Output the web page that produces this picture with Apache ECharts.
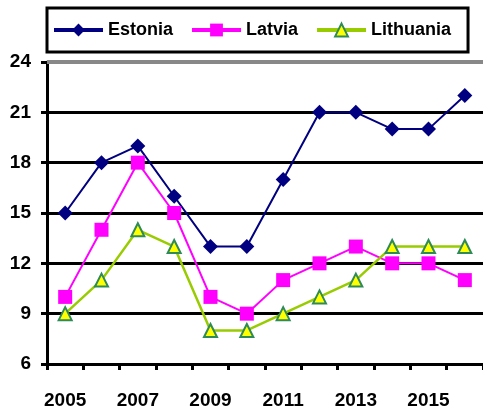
<!DOCTYPE html>
<html><head><meta charset="utf-8">
<script src="https://cdn.jsdelivr.net/npm/echarts@6/dist/echarts.min.js"></script>
<style>html,body{margin:0;padding:0;background:#fff}#c{width:483px;height:419px}</style>
</head><body><div id="c"></div>
<script>
const years = ['2005','2006','2007','2008','2009','2010','2011','2012','2013','2014','2015','2016'];
const estonia = [15,18,19,16,13,13,17,21,21,20,20,22];
const latvia = [10,14,18,15,10,9,11,12,13,12,12,11];
const lithuania = [9,11,14,13,8,8,9,10,11,13,13,13];
const yTicks = {min:6, max:24, interval:3};

const font = '"Liberation Sans", Arial, sans-serif';
const chart = echarts.init(document.getElementById('c'));
chart.setOption({
  animation:false,
  textStyle:{fontFamily:font},
  grid:{left:47, right:-2, top:62, bottom:55, containLabel:false},
  legend:{
    left:47, top:8, width:410,
    padding:[13,17,13,5],
    borderColor:'#000', borderWidth:3,
    itemWidth:49, itemHeight:16, itemGap:17,
    lineStyle:{width:4},
    textStyle:{fontFamily:font, fontWeight:'bold', fontSize:18, color:'#000'},
    data:['Estonia','Latvia','Lithuania']
  },
  xAxis:{
    type:'category', data:years, boundaryGap:true,
    axisLine:{lineStyle:{color:'#000', width:3}},
    axisTick:{show:true, interval:0, length:6, lineStyle:{color:'#000', width:3}},
    axisLabel:{interval:1, margin:27, color:'#000', fontWeight:'bold', fontSize:19, fontFamily:font},
    splitLine:{show:false}
  },
  yAxis:{
    type:'value', min:yTicks.min, max:yTicks.max, interval:yTicks.interval,
    axisLine:{show:true, lineStyle:{color:'#000', width:3}},
    axisTick:{show:true, length:6, lineStyle:{color:'#000', width:3}},
    axisLabel:{margin:16, color:'#000', fontWeight:'bold', fontSize:19, fontFamily:font},
    splitLine:{show:true, lineStyle:{color:'#000', width:3}}
  },
  series:[
    {name:'Estonia', type:'line', data:estonia, symbol:'diamond', symbolSize:15,
     lineStyle:{color:'#000080', width:2}, itemStyle:{color:'#000080'},
     markLine:{silent:true, symbol:'none', label:{show:false},
       data:[{yAxis:24, lineStyle:{color:'#888', width:4, type:'solid'}}]}},
    {name:'Latvia', type:'line', data:latvia, symbol:'rect', symbolSize:14,
     lineStyle:{color:'#ff00ff', width:2}, itemStyle:{color:'#ff00ff'}},
    {name:'Lithuania', type:'line', data:lithuania, symbol:'triangle', symbolSize:13,
     lineStyle:{color:'#99cc00', width:2.5},
     itemStyle:{color:'#ffff00', borderColor:'#2e8b57', borderWidth:2}}
  ]
});
</script></body></html>
